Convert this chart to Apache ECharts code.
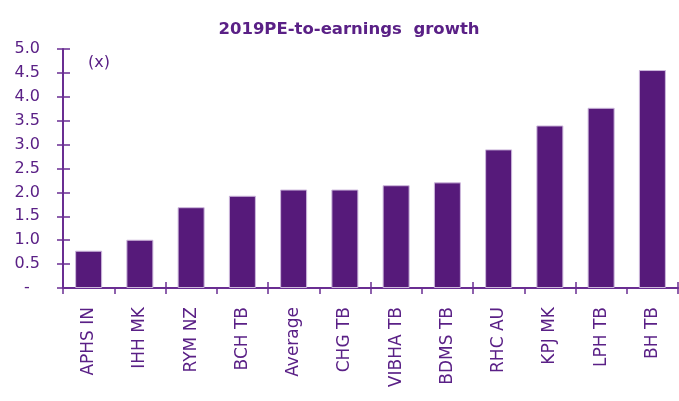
<!DOCTYPE html>
<html>
<head>
    <meta charset="utf-8">
    <title>PE-to-earnings growth</title>
    <script src="https://cdn.jsdelivr.net/npm/echarts@6/dist/echarts.min.js"></script>
    <style>
        html, body { margin: 0; padding: 0; background: #fff; }
    </style>
</head>
<body>
    <div id="main" style="width: 679px; height: 401px;"></div>
    <script type="text/javascript">
    var categories = ['APHS IN', 'IHH MK', 'RYM NZ', 'BCH TB', 'Average', 'CHG TB', 'VIBHA TB', 'BDMS TB', 'RHC AU', 'KPJ MK', 'LPH TB', 'BH TB'];
    var peg = [0.78, 1.01, 1.69, 1.93, 2.06, 2.06, 2.15, 2.21, 2.90, 3.40, 3.77, 4.56];

    var purple = '#561a7a';
    var axisPurple = '#6a2e92';
    var textPurple = '#5a2086';
    var font = 'DejaVu Sans';

    var myChart = echarts.init(document.getElementById('main'));
    var option = {
        backgroundColor: '#fff',
        animation: false,
        title: {
            text: '2019PE-to-earnings  growth',
            left: 344,
            top: 16,
            textAlign: 'center',
            textStyle: { color: textPurple, fontFamily: font, fontSize: 16.5, fontWeight: 'bold' }
        },
        graphic: [{
            type: 'text',
            left: 88,
            top: 55,
            style: { text: '(x)', fill: textPurple, font: '16px "DejaVu Sans"' }
        }],
        grid: { left: 63, right: 1, top: 49, bottom: 113 },
        xAxis: [{
            type: 'category',
            data: categories,
            axisLine: { lineStyle: { color: axisPurple, width: 2 } },
            axisTick: { show: true, length: 6, lineStyle: { color: axisPurple, width: 1.5 } },
            axisLabel: {
                rotate: 90, interval: 0, margin: 19,
                color: textPurple, fontFamily: font, fontSize: 17
            }
        }, {
            type: 'category',
            data: categories,
            position: 'bottom',
            axisLine: { show: false },
            axisTick: { show: true, inside: true, length: 6, lineStyle: { color: axisPurple, width: 1.5 } },
            axisLabel: { show: false }
        }],
        yAxis: [{
            type: 'value',
            min: 0, max: 5, interval: 0.5,
            splitLine: { show: false },
            axisLine: { show: true, lineStyle: { color: axisPurple, width: 2 } },
            axisTick: { show: true, length: 6, lineStyle: { color: axisPurple, width: 1.5 } },
            axisLabel: {
                margin: 23, color: textPurple, fontFamily: font, fontSize: 16,
                formatter: function (v) { return v === 0 ? '-\u2007' : v.toFixed(1); }
            }
        }, {
            type: 'value',
            position: 'left',
            min: 0, max: 5, interval: 0.5,
            splitLine: { show: false },
            axisLine: { show: false },
            axisTick: { show: true, inside: true, length: 7, lineStyle: { color: axisPurple, width: 1.5 } },
            axisLabel: { show: false }
        }],
        series: [{
            type: 'bar',
            data: peg,
            barWidth: 27,
            itemStyle: { color: purple, borderColor: '#cdb8dc', borderWidth: 1 }
        }]
    };
    myChart.setOption(option);
    </script>
</body>
</html>
